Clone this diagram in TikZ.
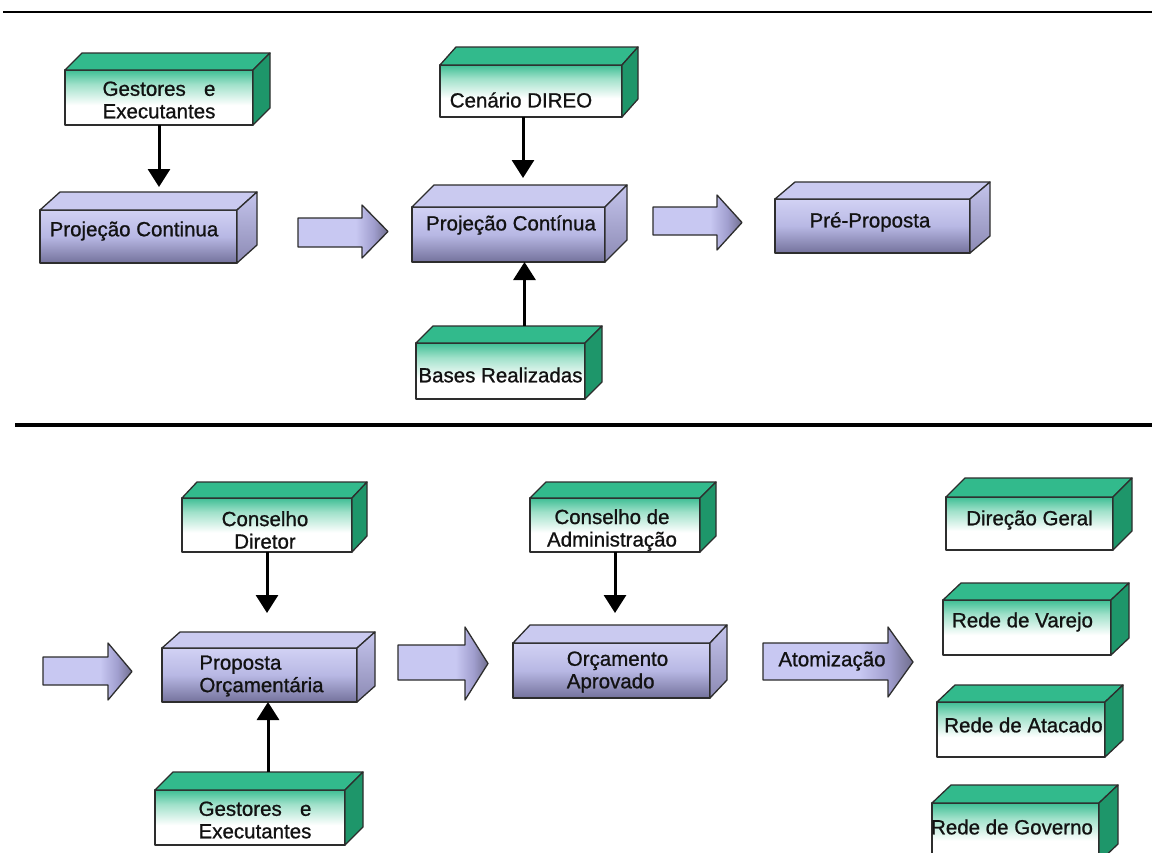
\documentclass[tikz,border=0pt]{standalone}
\usepackage{fontspec}
\setmainfont{Liberation Sans}
\newfontfamily\labelfont{Liberation Sans}[FakeBold=0.9]
\usepackage{calc}
\usetikzlibrary{arrows.meta}

% palette
\definecolor{gFront}{RGB}{62,190,148}
\definecolor{gMid}{RGB}{160,225,202}
\definecolor{gTopC}{RGB}{50,186,140}
\definecolor{gSideC}{RGB}{30,150,106}
\definecolor{pTopL}{RGB}{210,210,244}
\definecolor{pMidL}{RGB}{184,184,228}
\definecolor{pBotL}{RGB}{116,114,156}
\definecolor{pTopC}{RGB}{202,202,240}
\definecolor{pSideT}{RGB}{196,196,236}
\definecolor{pSideB}{RGB}{140,138,180}
\definecolor{aL}{RGB}{200,200,242}
\definecolor{aM}{RGB}{160,158,206}
\definecolor{aD}{RGB}{112,110,142}
\definecolor{edgeC}{RGB}{45,45,45}
\definecolor{inkC}{RGB}{18,18,18}

% face shadings (bottom at 25bp, top at 75bp)
\pgfdeclareverticalshading{greenfront}{100bp}{color(0bp)=(white); color(25bp)=(white); color(43bp)=(white); color(62bp)=(gMid); color(75bp)=(gFront); color(100bp)=(gFront)}
\pgfdeclareverticalshading{purplefront}{100bp}{color(0bp)=(pBotL); color(25bp)=(pBotL); color(50bp)=(pMidL); color(75bp)=(pTopL); color(100bp)=(pTopL)}
\pgfdeclarehorizontalshading{fatshade}{100bp}{color(0bp)=(aL); color(25bp)=(aL); color(57bp)=(aL); color(67bp)=(aM); color(75bp)=(aD); color(100bp)=(aD)}

\tikzset{
  edge/.style={draw=edgeC, line width=1.3pt, line join=round},
  gface/.style={edge, rectangle, inner sep=0pt, outer sep=0pt, shading=greenfront},
  gtop/.style={edge, fill=gTopC},
  gside/.style={edge, fill=gSideC},
  pface/.style={edge, rectangle, inner sep=0pt, outer sep=0pt, shading=purplefront},
  ptop/.style={edge, fill=pTopC},
  pside/.style={edge, top color=pSideT, bottom color=pSideB},
  boxtext/.style={text=inkC, align=center, inner sep=0pt, font=\labelfont\fontsize{20.5}{22.5}\selectfont},
  fat/.style={edge, shading=fatshade},
  conn/.style={draw=black, line width=3pt, -{Triangle[width=22pt,length=18pt]}},
  rule/.style={draw=black, line cap=butt}
}

% [text options]{name}{kind g/p}{x1}{y1}{x2}{y2}{depth}{text}
\newcommand\cubebox[9][]{%
  \node[#3face, minimum width={(#6-#4)*1pt}, minimum height={(#7-#5)*1pt}] (#2) at ({(#4+#6)/2},{(#5+#7)/2}) {};
  \draw[#3top] (#2.north west) -- ([shift={#8}]#2.north west) -- ([shift={#8}]#2.north east) -- (#2.north east) -- cycle;
  \draw[#3side] (#2.north east) -- ([shift={#8}]#2.north east) -- ([shift={#8}]#2.south east) -- (#2.south east) -- cycle;
  \coordinate (#2-back) at ([shift={#8}]#2.north);
  \node[boxtext, #1] (#2-t) at (#2.center) {#9};
}

% {x0}{x head}{x tip}{shaft y1}{shaft y2}{head y1}{head y2}
\newcommand\fatarrow[7]{%
  \path[fat] (#1,#4) -- (#2,#4) -- (#2,#6) -- ({#3},{(#6+#7)/2}) -- (#2,#7) -- (#2,#5) -- (#1,#5) -- cycle;
}

\newcommand\gestext{\makebox[\widthof{Executantes}][s]{Gestores\hfill e}\\Executantes}

\begin{document}
\begin{tikzpicture}[x=1pt, y=-1pt]
  \clip (0,0) rectangle (1152,852);
  \fill[white] (0,0) rectangle (1152,852);

  % section rules
  \draw[rule, line width=2.5pt] (3,12) -- (1152,12);
  \draw[rule, line width=4pt] (15,425) -- (1152,425);

  % ---------- upper flow ----------
  \cubebox[yshift=-2.5pt]{g1}{g}{65}{70}{253}{125}{(17,-17)}{\gestext}
  \cubebox[xshift=-4.5pt, yshift=5.5pt]{p1}{p}{40}{210}{237}{263}{(20,-18)}{Projeção Continua}
  \cubebox[xshift=-10pt, yshift=-9pt]{c1}{g}{440}{65}{622}{117}{(16,-18)}{Cenário DIREO}
  \cubebox[xshift=2.5pt, yshift=9.5pt]{p2}{p}{412}{207}{605}{262}{(22,-22)}{Projeção Contínua}
  \cubebox[xshift=-2.5pt, yshift=4pt]{pp}{p}{775}{199}{970}{253}{(20,-17)}{Pré-Proposta}
  \cubebox[yshift=-4pt]{br}{g}{416}{343}{585}{399}{(17,-17)}{Bases Realizadas}

  \fatarrow{298}{362}{388}{218}{247}{205}{258}
  \fatarrow{653}{717}{742}{207}{235}{195}{250}

  \draw[conn, shorten >=5pt] (g1.south) -- (g1.south |- p1-back);
  \path ([xshift=-8pt]c1.south) coordinate (c1-out);
  \draw[conn, shorten >=7pt] (c1-out) -- (c1-out |- p2-back);
  \path ([xshift=7pt]br-back) coordinate (br-out);
  \draw[conn] (br-out) -- (br-out |- p2.south);

  % ---------- lower flow ----------
  \cubebox[xshift=-2pt, yshift=-5pt]{cd}{g}{182}{498}{352}{552}{(15,-16)}{Conselho\\Diretor}
  \cubebox[xshift=2pt, yshift=-1pt, align=left]{po}{p}{162}{648}{357}{702}{(18,-16)}{Proposta\\Orçamentária}
  \cubebox[xshift=5pt, yshift=-2.5pt]{g2}{g}{155}{790}{345}{845}{(18,-18)}{\gestext}
  \cubebox[xshift=-3pt, yshift=-5pt]{ca}{g}{530}{498}{700}{552}{(16,-16)}{Conselho de\\Administração}
  \cubebox[xshift=6pt, yshift=-1.5pt, align=left]{oa}{p}{513}{643}{710}{698}{(17,-18)}{Orçamento\\Aprovado}
  \cubebox[yshift=3.5pt]{dg}{g}{946}{497}{1113}{550}{(19,-19)}{Direção Geral}
  \cubebox[xshift=-4.5pt, yshift=5.5pt]{rv}{g}{943}{600}{1111}{655}{(18,-17)}{Rede de Varejo}
  \cubebox[xshift=2.5pt, yshift=4.5pt]{ra}{g}{937}{702}{1105}{757}{(18,-17)}{Rede de Atacado}
  \cubebox[xshift=-3.5pt, yshift=5.5pt]{rg}{g}{932}{803}{1099}{862}{(19,-18)}{Rede de Governo}

  \fatarrow{43}{108}{132}{657}{685}{643}{700}
  \fatarrow{398}{465}{488}{645}{680}{627}{700}
  \fatarrow{763}{888}{913}{643}{680}{627}{697}
  \node[boxtext] (atom) at (832,661) {Atomização};

  \draw[conn, shorten >=19pt] (cd.south) -- (cd.south |- po-back);
  \draw[conn] (g2-back) -- (g2-back |- po.south);
  \draw[conn, shorten >=12pt] (ca.south) -- (ca.south |- oa-back);
\end{tikzpicture}
\end{document}
